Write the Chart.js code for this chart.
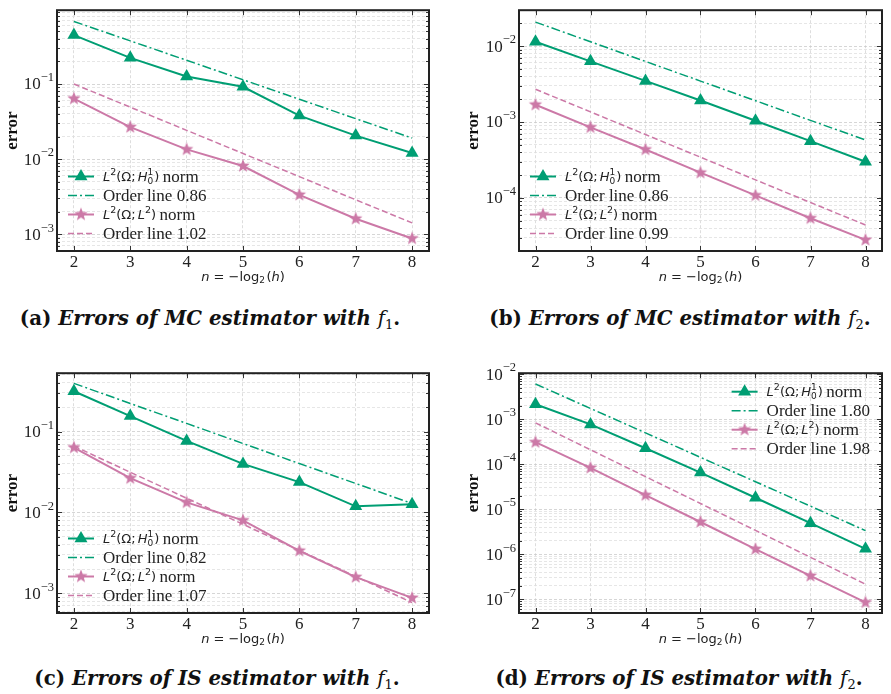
<!DOCTYPE html>
<html>
<head>
<meta charset="utf-8">
<script src="https://cdn.jsdelivr.net/npm/chart.js@4.4.1/dist/chart.umd.min.js"></script>
<style>
  body { margin: 0; background: #fff; width: 891px; height: 694px; position: relative; overflow: hidden; }
  canvas { position: absolute; }
  .cap { position: absolute; width: 440px; text-align: center; font-family: 'DejaVu Serif'; font-weight: bold;
         font-size: 19.8px; line-height: 24px; white-space: nowrap; color: #111; }
  .cap i { font-style: italic; }
  .cap .f { font-weight: normal; font-style: italic; }
  .cap .s { font-weight: normal; font-size: 13px; position: relative; top: 4px; }
</style>
</head>
<body>
<canvas id="ca" width="445" height="292" style="left:0;top:0"></canvas>
<canvas id="cb" width="446" height="292" style="left:445px;top:0"></canvas>
<canvas id="cc" width="445" height="292" style="left:0;top:363px"></canvas>
<canvas id="cd" width="446" height="292" style="left:445px;top:363px"></canvas>
<div class="cap" style="left:-10px;top:306px">(a) <i>Errors of MC estimator with</i> <span class="f">f</span><span class="s">1</span>.</div>
<div class="cap" style="left:460px;top:306px">(b) <i>Errors of MC estimator with</i> <span class="f">f</span><span class="s">2</span>.</div>
<div class="cap" style="left:-3px;top:666px">(c) <i>Errors of IS estimator with</i> <span class="f">f</span><span class="s">1</span>.</div>
<div class="cap" style="left:459px;top:666px">(d) <i>Errors of IS estimator with</i> <span class="f">f</span><span class="s">2</span>.</div>
<script>
// n = -log2(h)
var nValues = [2, 3, 4, 5, 6, 7, 8];

// (a) MC estimator, f1
var mcF1H1 = [0.448, 0.223, 0.126, 0.092, 0.038, 0.0206, 0.0121];
var mcF1H1Order = [0.68, 0.375, 0.207, 0.114, 0.0627, 0.0346, 0.0191];
var mcF1L2 = [0.064, 0.0267, 0.0135, 0.0081, 0.00335, 0.00161, 0.00088];
var mcF1L2Order = [0.1, 0.0492, 0.0242, 0.0119, 0.00586, 0.00288, 0.00142];

// (b) MC estimator, f2
var mcF2H1 = [0.0114, 0.0063, 0.00348, 0.00192, 0.00104, 0.00056, 0.0003];
var mcF2H1Order = [0.0207, 0.0114, 0.00628, 0.00346, 0.00191, 0.00105, 0.00058];
var mcF2L2 = [0.00169, 0.00085, 0.000434, 0.000215, 0.000108, 0.000054, 0.000028];
var mcF2L2Order = [0.0027, 0.00136, 0.000684, 0.000344, 0.000173, 0.000087, 0.000044];

// (c) IS estimator, f1
var isF1H1 = [0.314, 0.155, 0.0765, 0.0398, 0.0237, 0.0119, 0.0126];
var isF1H1Order = [0.393, 0.222, 0.126, 0.0711, 0.0402, 0.0228, 0.0129];
var isF1L2 = [0.0634, 0.0265, 0.0133, 0.00798, 0.00336, 0.00159, 0.00088];
var isF1L2Order = [0.066, 0.0314, 0.015, 0.00714, 0.0034, 0.00162, 0.00077];

// (d) IS estimator, f2
var isF2H1 = [0.00214, 0.000765, 0.000226, 0.000065, 0.000018, 0.0000049, 0.00000132];
var isF2H1Order = [0.00605, 0.00173, 0.000496, 0.000142, 0.0000407, 0.0000117, 0.00000334];
var isF2L2 = [0.000308, 0.000083, 0.0000205, 0.0000052, 0.0000013, 0.00000033, 0.000000085];
var isF2L2Order = [0.00083, 0.000209, 0.0000529, 0.0000134, 0.00000338, 0.000000854, 0.000000216];

var orderH1Labels = ['0.86', '0.86', '0.82', '1.80'];
var orderL2Labels = ['1.02', '0.99', '1.07', '1.98'];

var GREEN = '#009E73';
var PINK = '#CC79A7';
var SERIF = "'Liberation Serif'";
var SANS = "'DejaVu Sans'";

function makeStar(color, R) {
  var c = document.createElement('canvas');
  var s = Math.ceil(R * 2 + 2);
  c.width = s; c.height = s;
  var g = c.getContext('2d');
  g.fillStyle = color;
  g.beginPath();
  for (var i = 0; i < 10; i++) {
    var r = i % 2 ? R * 0.42 : R;
    var a = -Math.PI / 2 + i * Math.PI / 5;
    var px = s / 2 + r * Math.cos(a), py = s / 2 + r * Math.sin(a);
    if (i) g.lineTo(px, py); else g.moveTo(px, py);
  }
  g.closePath();
  g.fill();
  return c;
}
var starImg = makeStar(PINK, 7);

var h1Parts = [
  { t: 'L', f: 'italic 13px ' + SANS },
  { t: '2', f: '9.5px ' + SANS, dy: -5 },
  { t: '(\u03A9;', f: '13px ' + SANS },
  { gap: 2 },
  { t: 'H', f: 'italic 13px ' + SANS },
  { sup: '1', sub: '0', f: '9px ' + SANS },
  { t: ')', f: '13px ' + SANS },
  { gap: 3.5 },
  { t: 'norm', f: '17px ' + SERIF }
];
var l2Parts = [
  { t: 'L', f: 'italic 13px ' + SANS },
  { t: '2', f: '9.5px ' + SANS, dy: -5 },
  { t: '(\u03A9;', f: '13px ' + SANS },
  { gap: 2 },
  { t: 'L', f: 'italic 13px ' + SANS },
  { t: '2', f: '9.5px ' + SANS, dy: -5 },
  { t: ')', f: '13px ' + SANS },
  { gap: 3.5 },
  { t: 'norm', f: '17px ' + SERIF }
];
var xTitleParts = [
  { t: 'n', f: 'italic 13px ' + SANS },
  { t: ' = \u2212log', f: '13px ' + SANS },
  { t: '2', f: '9px ' + SANS, dy: 3 },
  { gap: 1.5 },
  { t: '(', f: '13px ' + SANS },
  { t: 'h', f: 'italic 13px ' + SANS },
  { t: ')', f: '13px ' + SANS }
];

function partWidth(ctx, p) {
  if (p.gap) return p.gap;
  ctx.font = p.f;
  if (p.sup) return Math.max(ctx.measureText(p.sup).width, ctx.measureText(p.sub).width) + 1;
  return ctx.measureText(p.t).width;
}
function richWidth(ctx, parts) {
  var w = 0;
  parts.forEach(function (p) { w += partWidth(ctx, p); });
  return w;
}
function drawRich(ctx, parts, x, y) {
  parts.forEach(function (p) {
    var w = partWidth(ctx, p);
    if (p.sup) {
      ctx.fillText(p.sup, x, y - 5);
      ctx.fillText(p.sub, x, y + 4);
    } else if (p.t) {
      ctx.fillText(p.t, x, y + (p.dy || 0));
    }
    x += w;
  });
}

var framePlugin = {
  id: 'frame',
  afterDraw: function (chart, args, opts) {
    var ctx = chart.ctx, a = chart.chartArea, xs = chart.scales.x, ys = chart.scales.y;
    ctx.save();
    // inward tick marks
    ctx.strokeStyle = '#333';
    ctx.lineWidth = 1;
    ctx.beginPath();
    ys.ticks.forEach(function (t) {
      var py = Math.round(ys.getPixelForValue(t.value)) + 0.5;
      var len = t.major ? 5 : 3;
      ctx.moveTo(a.left, py); ctx.lineTo(a.left + len, py);
      ctx.moveTo(a.right, py); ctx.lineTo(a.right - len, py);
    });
    xs.ticks.forEach(function (t) {
      var px = Math.round(xs.getPixelForValue(t.value)) + 0.5;
      ctx.moveTo(px, a.bottom); ctx.lineTo(px, a.bottom - 5);
      ctx.moveTo(px, a.top); ctx.lineTo(px, a.top + 5);
    });
    ctx.stroke();
    ctx.lineWidth = 2;
    ctx.strokeStyle = '#222';
    ctx.strokeRect(a.left, a.top, a.right - a.left, a.bottom - a.top);

    ctx.textBaseline = 'middle';
    ctx.fillStyle = '#222';
    // y tick labels as 10^k
    ys.ticks.forEach(function (t) {
      if (!t.major) return;
      var k = Math.round(Math.log10(t.value));
      var parts = [{ t: '10', f: '17px ' + SERIF }, { t: '\u2212' + Math.abs(k), f: '12.5px ' + SERIF, dy: -7 }];
      var py = ys.getPixelForValue(t.value);
      drawRich(ctx, parts, a.left - 3 - richWidth(ctx, parts), py + 1);
    });
    // x axis title
    var tw = richWidth(ctx, xTitleParts);
    drawRich(ctx, xTitleParts, (a.left + a.right) / 2 - tw / 2, a.bottom + 27);

    // legend inside the axes
    var ds = chart.data.datasets;
    var rowH = 19, sampleW = 26, gap = 9;
    var maxW = 0;
    ds.forEach(function (d) { maxW = Math.max(maxW, richWidth(ctx, d.legendParts)); });
    var x0, y0;
    if (opts.corner === 'ur') { x0 = a.right - 12 - maxW - gap - sampleW; y0 = a.top + 18.5; }
    else { x0 = a.left + 11; y0 = a.bottom - 17.5 - 3 * rowH; }
    ds.forEach(function (d, i) {
      var y = y0 + i * rowH;
      ctx.strokeStyle = d.borderColor;
      ctx.lineWidth = d.borderWidth;
      ctx.setLineDash(d.borderDash || []);
      ctx.beginPath();
      ctx.moveTo(x0, y); ctx.lineTo(x0 + sampleW, y);
      ctx.stroke();
      ctx.setLineDash([]);
      var cx = x0 + sampleW / 2;
      if (d.legendKind === 'tri') {
        var r = 7.5;
        ctx.fillStyle = d.borderColor;
        ctx.beginPath();
        ctx.moveTo(cx, y - r);
        ctx.lineTo(cx + r * Math.sin(2 * Math.PI / 3), y + r / 2);
        ctx.lineTo(cx - r * Math.sin(2 * Math.PI / 3), y + r / 2);
        ctx.closePath();
        ctx.fill();
      } else if (d.legendKind === 'star') {
        ctx.drawImage(starImg, cx - starImg.width / 2, y - starImg.height / 2);
      }
      ctx.fillStyle = '#222';
      drawRich(ctx, d.legendParts, x0 + sampleW + gap, y + 1);
    });
    ctx.restore();
  }
};

function pts(arr) {
  return arr.map(function (v, i) { return { x: nValues[i], y: v }; });
}

function makeChart(id, p) {
  var datasets = [
    { data: pts(p.h1), borderColor: GREEN, backgroundColor: GREEN, borderWidth: 2, pointStyle: 'triangle',
      pointRadius: 7.5, pointBorderWidth: 0, legendKind: 'tri', legendParts: h1Parts },
    { data: pts(p.h1o), borderColor: GREEN, borderWidth: 1.5, borderDash: [9, 3, 2, 3], pointRadius: 0,
      legendKind: 'line', legendParts: [{ t: 'Order line ' + p.oh1, f: '17px ' + SERIF }] },
    { data: pts(p.l2), borderColor: PINK, backgroundColor: PINK, borderWidth: 2, pointStyle: starImg,
      pointRadius: 7, legendKind: 'star', legendParts: l2Parts },
    { data: pts(p.l2o), borderColor: PINK, borderWidth: 1.5, borderDash: [6, 3], pointRadius: 0,
      legendKind: 'line', legendParts: [{ t: 'Order line ' + p.ol2, f: '17px ' + SERIF }] }
  ];
  return new Chart(document.getElementById(id), {
    type: 'line',
    data: { datasets: datasets },
    plugins: [framePlugin],
    options: {
      responsive: false,
      animation: false,
      layout: { padding: { left: p.padLeft, right: p.padRight, top: 5, bottom: 0 } },
      elements: { line: { tension: 0 } },
      plugins: { legend: { display: false }, tooltip: { enabled: false }, frame: { corner: p.corner } },
      scales: {
        x: {
          type: 'linear', min: 1.7, max: 8.3,
          afterBuildTicks: function (s) { s.ticks = nValues.map(function (v) { return { value: v }; }); },
          afterFit: function (s) { s.height = p.xHeight; },
          ticks: { autoSkip: false, maxRotation: 0, padding: 1, color: '#222', font: { family: SERIF, size: 17 } },
          grid: { color: '#d4d4d4', lineWidth: 0.8, drawTicks: false, borderDash: [3, 2] },
          border: { display: false, dash: [3, 2] }
        },
        y: {
          type: 'logarithmic', min: p.ymin, max: p.ymax,
          afterBuildTicks: function (s) {
            var ticks = [];
            var k0 = Math.floor(Math.log10(p.ymin)), k1 = Math.ceil(Math.log10(p.ymax));
            for (var k = k0; k <= k1; k++) {
              for (var m = 1; m <= 9; m++) {
                var v = m * Math.pow(10, k);
                if (v >= p.ymin && v <= p.ymax) ticks.push({ value: v, major: m === 1 });
              }
            }
            s.ticks = ticks;
          },
          afterFit: function (s) { s.width = p.yWidth; },
          ticks: { autoSkip: false, padding: 3, callback: function () { return ''; } },
          grid: {
            color: function (c) { return c.tick && c.tick.major ? '#cccccc' : '#e0e0e0'; },
            lineWidth: 0.8, drawTicks: false, borderDash: [3, 2]
          },
          border: { display: false, dash: [3, 2] },
          title: { display: true, text: 'error', color: '#111', padding: { top: 2.5, bottom: 0 },
                   font: { family: 'Liberation Serif', size: 17, weight: 'bold' } }
        }
      }
    }
  });
}

makeChart('ca', { h1: mcF1H1, h1o: mcF1H1Order, l2: mcF1L2, l2o: mcF1L2Order, oh1: orderH1Labels[0], ol2: orderL2Labels[0],
  ymin: 6.3e-4, ymax: 0.96, padLeft: 0, padRight: 16, yWidth: 57, xHeight: 41, corner: 'll' });
makeChart('cb', { h1: mcF2H1, h1o: mcF2H1Order, l2: mcF2L2, l2o: mcF2L2Order, oh1: orderH1Labels[1], ol2: orderL2Labels[1],
  ymin: 2.0e-5, ymax: 0.0297, padLeft: 16, padRight: 1, yWidth: 58, xHeight: 41, corner: 'll' });
makeChart('cc', { h1: isF1H1, h1o: isF1H1Order, l2: isF1L2, l2o: isF1L2Order, oh1: orderH1Labels[2], ol2: orderL2Labels[2],
  ymin: 5.73e-4, ymax: 0.525, padLeft: 0, padRight: 16, yWidth: 57, xHeight: 42, corner: 'll' });
makeChart('cd', { h1: isF2H1, h1o: isF2H1Order, l2: isF2L2, l2o: isF2L2Order, oh1: orderH1Labels[3], ol2: orderL2Labels[3],
  ymin: 4.95e-8, ymax: 0.0105, padLeft: 16, padRight: 1, yWidth: 58, xHeight: 42, corner: 'ur' });
</script>
</body>
</html>
